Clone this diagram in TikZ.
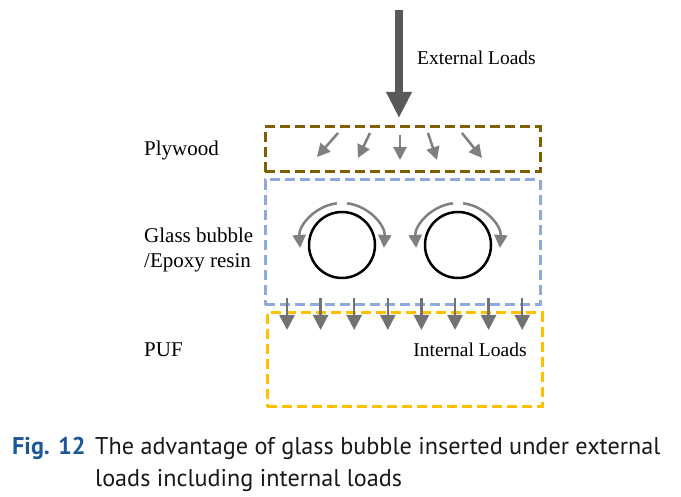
\documentclass[tikz,border=0pt]{standalone}
\usepackage{fontspec}
\setmainfont{Liberation Serif}
\newfontfamily\capfont{PT Sans}
\usetikzlibrary{arrows.meta, positioning, calc}
\usepackage{xcolor}
\definecolor{plycolor}{RGB}{127,96,0}
\definecolor{glasscolor}{RGB}{143,170,220}
\definecolor{pufcolor}{RGB}{255,192,0}
\definecolor{loadgray}{RGB}{89,89,89}
\definecolor{flowgray}{RGB}{127,127,127}
\definecolor{figblue}{RGB}{28,88,150}
\tikzset{
    layerbox/.style={rectangle, line width=3pt, dash pattern=on 10pt off 5pt, inner sep=0pt},
    sidelabel/.style={anchor=west, align=left, inner sep=0pt, font=\fontsize{21}{25}\selectfont},
    loadtext/.style={inner sep=0pt, font=\fontsize{19.5}{23}\selectfont},
    captext/.style={anchor=base west, inner sep=0pt, font=\capfont\fontsize{24.2}{32}\selectfont, text=black!90},
    bigarrow/.style={-{Triangle[length=26pt, width=24pt]}, line width=8pt, draw=loadgray},
    smallarrow/.style={-{Triangle[length=13pt, width=13pt]}, line width=2.5pt, draw=flowgray},
    downarrow/.style={-{Triangle[length=15pt, width=15pt]}, line width=2.5pt, draw=flowgray!90!black},
    bubble/.style={circle, draw=black, line width=2.5pt, minimum size=66pt, inner sep=0pt}
}

\begin{document}
\begin{tikzpicture}[x=1pt, y=1pt]
    \useasboundingbox (0,0) rectangle (681,497);

    \node[layerbox, draw=plycolor, minimum width=275pt, minimum height=45pt] (plywood) at (402.5,347.5) {};
    \node[layerbox, draw=glasscolor, minimum width=275pt, minimum height=125pt] (glass) at (402.5,254.5) {};
    \node[layerbox, draw=pufcolor, minimum width=275pt, minimum height=94pt] (puf) at (404.5,137) {};

    \node[sidelabel] (plylabel) at (144,347) {Plywood};
    \node[sidelabel] (glasslabel) at (144,247) {Glass bubble\\/Epoxy resin};
    \node[sidelabel] (puflabel) at (144,147) {PUF};

    \coordinate (top) at (399,487);
    \coordinate (hit) at (399,379);
    \draw[bigarrow] (top) -- (hit);
    \node[loadtext, anchor=west] (extload) at (417,439) {External Loads};

    \foreach \sx/\sy/\ex/\ey in {338/364/317/340, 370/364/358/339, 400/362/400/337, 428/364/437/337, 462/364/482/339}
        \draw[smallarrow] (\sx,\sy) -- (\ex,\ey);

    \node[bubble] (leftbubble) at (342,252) {};
    \node[bubble] (rightbubble) at (458,252) {};
    \foreach \b in {leftbubble, rightbubble} {
        \draw[smallarrow] ($(\b.center)+(97:42)$) arc[start angle=97, end angle=184, radius=42];
        \draw[smallarrow] ($(\b.center)+(83:42)$) arc[start angle=83, end angle=-4, radius=42];
    }

    \foreach \i in {0,...,7}
        \draw[downarrow] (287+33.6*\i,199) -- (287+33.6*\i,167);
    \node[loadtext] (intload) at (470,147) {Internal Loads};

    \node[captext, font=\capfont\bfseries\fontsize{24.2}{32}\selectfont, text=figblue] (fignum) at (12,42) {Fig. 12};
    \node[captext] (caption) at (95,42) {The advantage of glass bubble inserted under external};
    \node[captext] (captionmore) at (95,10) {loads including internal loads};
\end{tikzpicture}
\end{document}
